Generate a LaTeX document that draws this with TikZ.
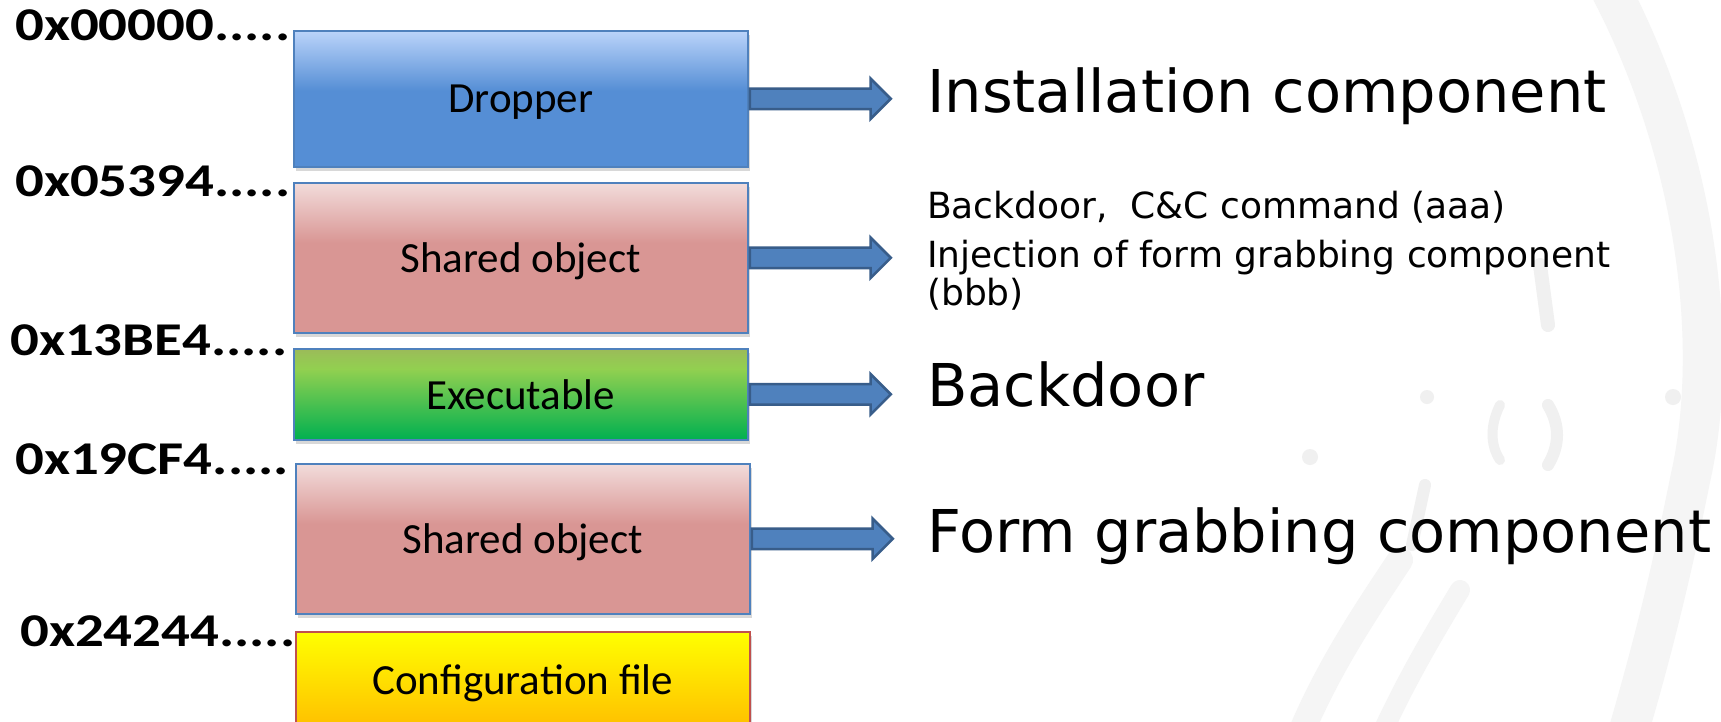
\documentclass[tikz,border=0pt]{standalone}
\usepackage{fontspec}
\setmainfont{Carlito}
\newfontfamily\hexfont[FakeStretch=1.21]{Carlito}
\newfontfamily\descfont{DejaVu Sans}
\usetikzlibrary{shapes.arrows,shadows}

\definecolor{arrowblue}{HTML}{4F81BD}
\definecolor{arrowdark}{HTML}{385D8A}
\definecolor{segline}{HTML}{4F81BD}
\definecolor{droptop}{HTML}{BBD4FA}
\definecolor{dropmid}{HTML}{558ED5}
\definecolor{sotop}{HTML}{F2DCDB}
\definecolor{somid}{HTML}{D99694}
\definecolor{exetop}{HTML}{9BBB59}
\definecolor{exemid}{HTML}{92D050}
\definecolor{exebot}{HTML}{00B050}
\definecolor{cfgtop}{HTML}{FFFF00}
\definecolor{cfgbot}{HTML}{FFC000}
\definecolor{cfgline}{HTML}{C0504D}

\pgfdeclareverticalshading{dropshade}{100bp}{color(0bp)=(dropmid); color(53bp)=(dropmid); color(75bp)=(droptop); color(100bp)=(droptop)}
\pgfdeclareverticalshading{soshade}{100bp}{color(0bp)=(somid); color(55bp)=(somid); color(75bp)=(sotop); color(100bp)=(sotop)}
\pgfdeclareverticalshading{exeshade}{100bp}{color(0bp)=(exebot); color(25bp)=(exebot); color(64bp)=(exemid); color(75bp)=(exetop); color(100bp)=(exetop)}
\pgfdeclareverticalshading{cfgshade}{100bp}{color(0bp)=(cfgbot); color(25bp)=(cfgbot); color(75bp)=(cfgtop); color(100bp)=(cfgtop)}

\tikzset{%
	seg/.style={draw=segline,line width=1.5pt,minimum width=454pt,inner sep=0pt,text depth=0pt,anchor=north west,font=\fontsize{43}{51}\selectfont,drop shadow={shadow xshift=2pt,shadow yshift=-4pt,opacity=.3}},
	addr/.style={anchor=base west,inner sep=0pt,font=\hexfont\bfseries\fontsize{47}{55}\selectfont},
	blockarrow/.style={single arrow,draw=arrowdark,fill=arrowblue,line width=2.5pt,minimum height=141pt,inner xsep=0pt,inner ysep=9pt,single arrow head extend=10pt,anchor=tail},
	bigtext/.style={anchor=base west,inner sep=0pt,font=\descfont\fontsize{59}{70}\selectfont},
	smalltext/.style={anchor=base west,inner sep=0pt,font=\descfont\fontsize{36}{40}\selectfont},
	mark blob/.style={draw=black!6,line cap=round},
}

\begin{document}
\begin{tikzpicture}[x=1pt,y=-1pt]
	\useasboundingbox[fill=white] (0,0) rectangle (1721,721);

	%ozadje
	\begin{scope}[line cap=round]
		\draw[black!4,line width=40pt] (1600,-30) .. controls (1700,150) and (1720,350) .. (1690,480) .. controls (1670,580) and (1650,660) .. (1620,760);
		\draw[black!4,line width=26pt] (1290,760) .. controls (1320,680) and (1360,620) .. (1400,560);
		\draw[black!4,line width=20pt] (1370,760) .. controls (1400,690) and (1430,640) .. (1460,590);
		\fill[black!6] (1427,397) circle (7pt) (1673,397) circle (8pt) (1310,457) circle (8pt);
		\draw[mark blob,line width=10pt] (1500,405) .. controls (1490,425) and (1490,445) .. (1500,460);
		\draw[mark blob,line width=12pt] (1548,405) .. controls (1560,425) and (1560,445) .. (1548,465);
		\draw[mark blob,line width=14pt] (1540,265) -- (1548,325);
		\draw[mark blob,line width=12pt] (1425,485) -- (1412,545);
	\end{scope}

	%segmenti
	\node[seg,shading=dropshade,minimum height=136pt] (drop) at (293,30) {Dropper};
	\node[seg,shading=soshade,minimum height=150pt] (shobj) at (293,182) {Shared object};
	\node[seg,shading=exeshade,minimum height=91pt] (exe) at (293,348) {Executable};
	\node[seg,shading=soshade,minimum height=150pt] (shobjb) at (295,463) {Shared object};
	\node[seg,shading=cfgshade,draw=cfgline,minimum height=95pt] (cfg) at (295,631) {Configuration file};

	%naslovi
	\node[addr] (a0) at (15,40) {0x00000.....};
	\node[addr] (a1) at (15,196) {0x05394.....};
	\node[addr] (a2) at (10,355) {0x13BE4.....};
	\node[addr] (a3) at (15,474) {0x19CF4.....};
	\node[addr] (a4) at (20,646) {0x24244.....};

	%puscice
	\node[blockarrow] (ar1) at (drop.east) {};
	\node[blockarrow] (ar2) at (shobj.east) {};
	\node[blockarrow] (ar3) at (exe.east) {};
	\node[blockarrow] (ar4) at (shobjb.east) {};

	%opisi
	\node[bigtext] (inst) at (927,112) {Installation component};
	\node[smalltext] (cmd) at (927,218) {Backdoor,\ \ C\&C command (aaa)};
	\node[smalltext] (inj) at (927,267) {Injection of form grabbing component};
	\node[smalltext] (bbb) at (927,305) {(bbb)};
	\node[bigtext] (bdoor) at (927,406) {Backdoor};
	\node[bigtext] (fgrab) at (927,552) {Form grabbing component};
\end{tikzpicture}
\end{document}
